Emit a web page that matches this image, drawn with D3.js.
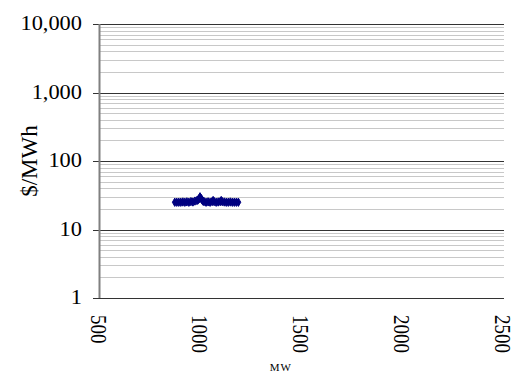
<!DOCTYPE html>
<html>
<head>
<meta charset="utf-8">
<script src="https://cdn.jsdelivr.net/npm/d3@7"></script>
<style>
  body { margin: 0; background: #fff; }
  svg text { font-family: "Times New Roman", "Liberation Serif", Times, serif; fill: #000; }
</style>
</head>
<body>
<svg id="chart" width="515" height="378"></svg>
<script>
// data
const mw = [875, 885, 895, 905, 915, 925, 935, 945, 955, 965, 975, 985, 990, 995,
  1000, 1005, 1010, 1015, 1020, 1030, 1040, 1050, 1060, 1065, 1070, 1080, 1090,
  1100, 1105, 1110, 1120, 1130, 1140, 1150, 1160, 1170, 1180, 1190];
const price = [25, 25, 25, 25, 25.2, 25, 25.3, 25, 25.5, 25.2, 26, 26.5, 27, 28,
  30, 28.5, 27, 26, 25.5, 25, 25.3, 25, 25.5, 26.5, 25.5, 25, 25.2,
  25.5, 26.5, 25.5, 25.2, 25, 25, 25.2, 25, 25, 25, 25];
const xTicks = [500, 1000, 1500, 2000, 2500];
const yTicks = [1, 10, 100, 1000, 10000];

const margin = { top: 24, right: 11, bottom: 80, left: 99 };
const width = 515 - margin.left - margin.right;
const height = 378 - margin.top - margin.bottom;

const svg = d3.select("#chart")
  .append("g")
  .attr("transform", `translate(${margin.left},${margin.top})`);

const x = d3.scaleLinear().domain([500, 2500]).range([0, width - 1]);
const y = d3.scaleLog().domain([1, 10000]).range([height, 0]);

// minor gridlines
const minor = [];
yTicks.slice(0, -1).forEach((t) => {
  for (let k = 2; k <= 9; k++) minor.push(t * k);
});
svg.selectAll(".minor")
  .data(minor)
  .join("line")
  .attr("x1", 0).attr("x2", width)
  .attr("y1", (d) => Math.round(y(d)) + 0.5)
  .attr("y2", (d) => Math.round(y(d)) + 0.5)
  .attr("stroke", "#c8c8c8");

// major gridlines
svg.selectAll(".major")
  .data(yTicks)
  .join("line")
  .attr("x1", -6).attr("x2", width)
  .attr("y1", (d) => Math.round(y(d)) + 0.5)
  .attr("y2", (d) => Math.round(y(d)) + 0.5)
  .attr("stroke", "#333");

// y axis line
svg.append("line")
  .attr("x1", 0.5).attr("x2", 0.5)
  .attr("y1", 0).attr("y2", height)
  .attr("stroke", "#808080")
  .attr("stroke-width", 2);

// y labels (the original text looks a bit stretched sideways)
svg.selectAll(".ylab")
  .data(yTicks)
  .join("text")
  .attr("transform", (d) => `translate(-17,${y(d) + 6}) scale(1.12,1)`)
  .attr("text-anchor", "end")
  .style("font-size", "20px")
  .text(d3.format(","));

// x labels, rotated
svg.selectAll(".xlab")
  .data(xTicks)
  .join("text")
  .attr("transform", (d) => `translate(${x(d) - 8},${height + 17}) scale(1.2,1) rotate(90)`)
  .style("font-size", "19px")
  .text((d) => d);

// points
svg.selectAll(".pt")
  .data(mw.map((m, i) => [m, price[i]]))
  .join("path")
  .attr("transform", (d) => `translate(${x(d[0])},${y(d[1])})`)
  .attr("d", d3.symbol(d3.symbolDiamond, 20))
  .attr("fill", "#000080")
  .attr("stroke", "#000080");

// axis titles
svg.append("text")
  .attr("x", x(1400))
  .attr("y", height + 73)
  .attr("text-anchor", "middle")
  .style("font-size", "11px")
  .style("letter-spacing", "1px")
  .text("MW");

svg.append("text")
  .attr("transform", `translate(-62,${y(100)}) rotate(-90)`)
  .attr("text-anchor", "middle")
  .style("font-size", "23px")
  .text("$/MWh");
</script>
</body>
</html>
